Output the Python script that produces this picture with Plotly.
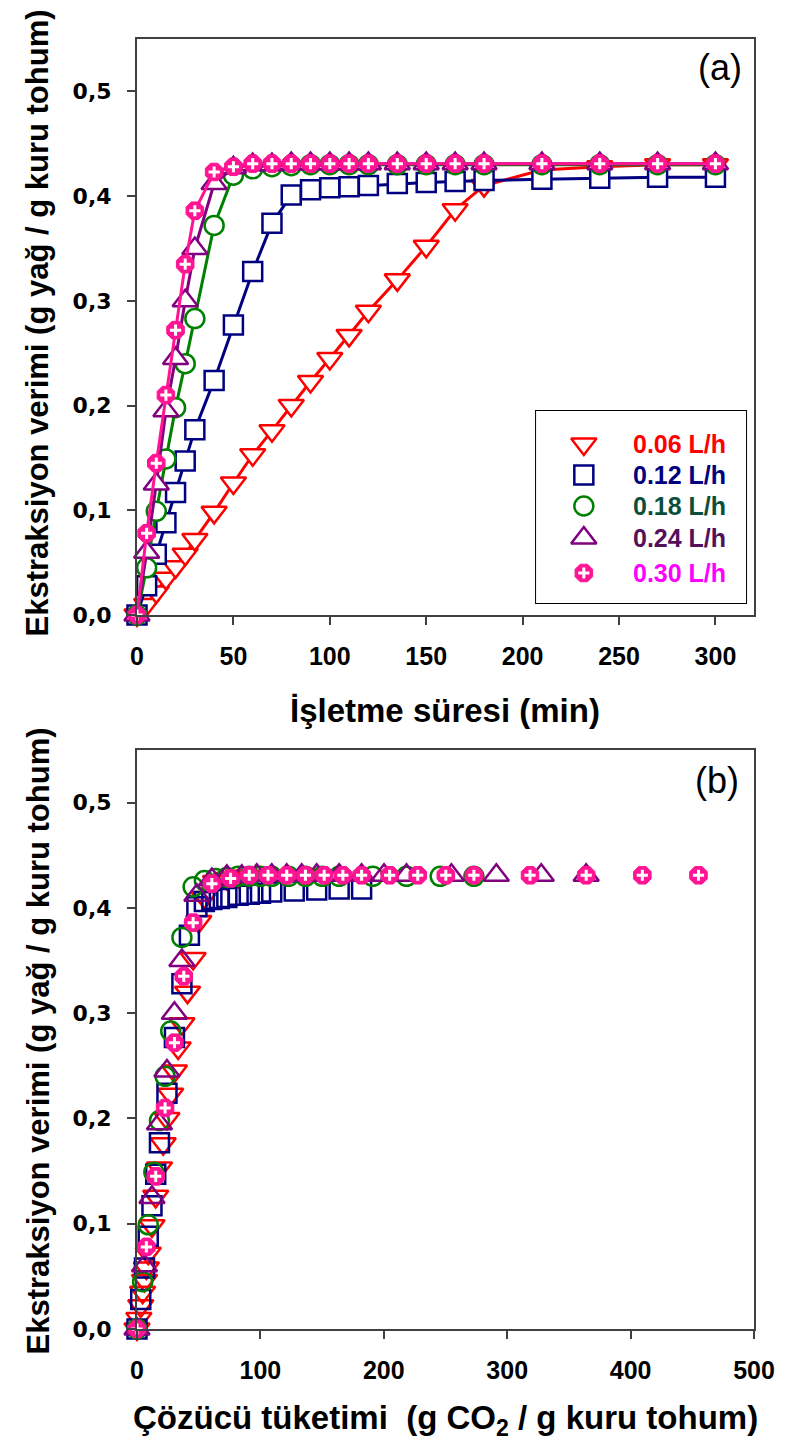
import plotly.graph_objects as go

# ---------------- data ----------------
time_min = [0, 5, 10, 15, 20, 25, 30, 40, 50, 60, 70, 80, 90, 100, 110, 120,
            135, 150, 165, 180, 210, 240, 270, 300]

flow_labels = ["0.06 L/h", "0.12 L/h", "0.18 L/h", "0.24 L/h", "0.30 L/h"]

yield_006 = [0.000, 0.010, 0.022, 0.035, 0.046, 0.058, 0.072, 0.098, 0.126, 0.153,
             0.176, 0.200, 0.223, 0.245, 0.267, 0.290, 0.320, 0.352, 0.387, 0.410,
             0.425, 0.428, 0.430, 0.430]
yield_012 = [0.000, 0.028, 0.058, 0.088, 0.117, 0.147, 0.177, 0.224, 0.277, 0.328,
             0.374, 0.401, 0.406, 0.408, 0.409, 0.410, 0.412, 0.413, 0.414, 0.415,
             0.416, 0.417, 0.418, 0.418]
yield_018 = [0.000, 0.045, 0.099, 0.149, 0.198, 0.240, 0.283, 0.372, 0.420, 0.426,
             0.428, 0.429, 0.430, 0.430, 0.430, 0.430, 0.430, 0.430, 0.430, 0.430,
             0.430, 0.430, 0.430, 0.430]
yield_024 = [0.000, 0.060, 0.125, 0.195, 0.245, 0.300, 0.350, 0.412, 0.427, 0.430,
             0.430, 0.431, 0.431, 0.431, 0.431, 0.431, 0.431, 0.431, 0.431, 0.431,
             0.431, 0.431, 0.431, 0.431]
yield_030 = [0.000, 0.078, 0.145, 0.210, 0.272, 0.335, 0.386, 0.423, 0.428, 0.431,
             0.431, 0.431, 0.431, 0.431, 0.431, 0.431, 0.431, 0.431, 0.431, 0.431,
             0.431, 0.431, 0.431, 0.431]

# solvent consumption rate (g CO2 / g dry seed per minute) for each flow rate
co2_per_min = [0.3033, 0.6067, 0.9100, 1.2133, 1.5167]

x_ticks_a = [0, 50, 100, 150, 200, 250, 300]
x_ticks_b = [0, 100, 200, 300, 400, 500]
y_ticks = [0.0, 0.1, 0.2, 0.3, 0.4, 0.5]
y_ticktext = ["0,0", "0,1", "0,2", "0,3", "0,4", "0,5"]

# ---------------- styles ----------------
W, H = 787, 1447
L, R, T, B = 137, 30, 39, 118
PW, PH = W - L - R, H - T - B


def px_x(px):
    return (px - L) / PW


def px_y(py):
    return (H - B - py) / PH


series = [yield_006, yield_012, yield_018, yield_024, yield_030]
line_colors = ["#FF0000", "#000080", "#008000", "#800080", "#FF1493"]
text_colors = ["#FF0000", "#000080", "#0B4F3A", "#55105A", "#FF00FF"]
symbols = ["triangle-down", "square", "circle", "triangle-up", "octagon"]
sizes = [22, 19, 19, 22, 19]

AX = "#404040"
TICK_FONT = dict(family="Liberation Sans, Arial", size=25, color="black", weight="bold")
YTICK_FONT = dict(family="DejaVu Sans", size=22, color="black", weight="bold")
TITLE_FONT = dict(family="Liberation Sans, Arial", size=31, color="black", weight="bold")
XTITLE_FONT = dict(family="Liberation Sans, Arial", size=33, color="black", weight="bold")

fig = go.Figure()


def add_series(xs, ys, i, xa, ya, with_line):
    pink = i == 4
    if pink:
        marker = dict(symbol=symbols[i], size=sizes[i], color=line_colors[i],
                      line=dict(color=line_colors[i], width=1))
    else:
        marker = dict(symbol=symbols[i] if with_line else symbols[i] + "-open",
                      size=sizes[i], color="white" if with_line else line_colors[i],
                      line=dict(color=line_colors[i], width=2.5))
    fig.add_trace(go.Scatter(
        x=xs, y=ys, xaxis=xa, yaxis=ya,
        mode="lines+markers" if with_line else "markers",
        line=dict(color=line_colors[i], width=3),
        marker=marker, cliponaxis=False, showlegend=False, hoverinfo="skip"))
    if pink:
        fig.add_trace(go.Scatter(
            x=xs, y=ys, xaxis=xa, yaxis=ya, mode="markers",
            marker=dict(symbol="cross-thin", size=8, color="white",
                        line=dict(color="white", width=3)),
            cliponaxis=False, showlegend=False, hoverinfo="skip"))


# panel (a)
for i, ys in enumerate(series):
    add_series(time_min, ys, i, "x", "y", True)

# panel (b)
for i, ys in enumerate(series):
    xs = [t * co2_per_min[i] for t in time_min]
    add_series(xs, ys, i, "x2", "y2", False)

# legend markers (on an auxiliary axis in pixel units)
leg_box = (538, 411, 749, 603)
leg_rows = [444, 475, 506, 538, 573]
leg_sym_x = 586
leg_txt_x = 633
for i in range(5):
    pink = i == 4
    if pink:
        marker = dict(symbol="octagon", size=19, color=line_colors[i],
                      line=dict(color=line_colors[i], width=1))
    else:
        marker = dict(symbol=symbols[i] + "-open", size=sizes[i], color=line_colors[i],
                      line=dict(color=line_colors[i], width=2.5))
    fig.add_trace(go.Scatter(x=[leg_sym_x], y=[leg_rows[i]], xaxis="x3", yaxis="y3",
                             mode="markers", marker=marker, showlegend=False,
                             hoverinfo="skip", cliponaxis=False))
    if pink:
        fig.add_trace(go.Scatter(x=[leg_sym_x], y=[leg_rows[i]], xaxis="x3", yaxis="y3",
                                 mode="markers",
                                 marker=dict(symbol="cross-thin", size=8, color="white",
                                             line=dict(color="white", width=3)),
                                 showlegend=False, hoverinfo="skip", cliponaxis=False))

dom_a = [px_y(615), px_y(39)]
dom_b = [px_y(1329), px_y(750)]

common_x = dict(showgrid=False, zeroline=False, showline=True, linecolor=AX, linewidth=2,
                mirror=True, ticks="outside", ticklen=8, tickwidth=2, tickcolor=AX,
                tickfont=TICK_FONT, ticklabelstandoff=10)
common_y = dict(showgrid=False, zeroline=False, showline=True, linecolor=AX, linewidth=2,
                mirror=True, ticks="outside", ticklen=8, tickwidth=2, tickcolor=AX,
                tickfont=YTICK_FONT, range=[0, 0.55], tickvals=y_ticks,
                ticktext=y_ticktext, ticklabelstandoff=11)

fig.update_layout(
    width=W, height=H, autosize=False,
    margin=dict(l=L, r=R, t=T, b=B, pad=0),
    paper_bgcolor="white", plot_bgcolor="white",
    xaxis=dict(domain=[0, 1], anchor="y", range=[0, 320], tickvals=x_ticks_a, **common_x),
    yaxis=dict(domain=dom_a, anchor="x", **common_y),
    xaxis2=dict(domain=[0, 1], anchor="y2", range=[0, 500], tickvals=x_ticks_b, **common_x),
    yaxis2=dict(domain=dom_b, anchor="x2", **common_y),
    xaxis3=dict(domain=[px_x(leg_box[0]), px_x(leg_box[2])], anchor="y3",
                range=[leg_box[0], leg_box[2]], visible=False, fixedrange=True),
    yaxis3=dict(domain=[px_y(leg_box[3]), px_y(leg_box[1])], anchor="x3",
                range=[leg_box[3], leg_box[1]], visible=False, fixedrange=True),
)

fig.add_shape(type="rect", xref="paper", yref="paper",
              x0=px_x(leg_box[0]), x1=px_x(leg_box[2]),
              y0=px_y(leg_box[3]), y1=px_y(leg_box[1]),
              line=dict(color="black", width=2), fillcolor="rgba(0,0,0,0)", layer="below")

annotations = []
for i in range(5):
    annotations.append(dict(
        x=px_x(leg_txt_x), y=px_y(leg_rows[i]), xref="paper", yref="paper",
        text=flow_labels[i], showarrow=False, xanchor="left", yanchor="middle",
        font=dict(family="Liberation Sans, Arial", size=25, color=text_colors[i], weight="bold")))

ytitle = "Ekstraksiyon verimi (g yağ / g kuru tohum)"
annotations += [
    dict(x=px_x(38), y=px_y(323), xref="paper", yref="paper", text=ytitle, textangle=-90,
         showarrow=False, xanchor="center", yanchor="middle", font=TITLE_FONT),
    dict(x=px_x(38), y=px_y(1041), xref="paper", yref="paper", text=ytitle, textangle=-90,
         showarrow=False, xanchor="center", yanchor="middle", font=TITLE_FONT),
    dict(x=px_x(446), y=px_y(710), xref="paper", yref="paper", text="İşletme süresi (min)",
         showarrow=False, xanchor="center", yanchor="middle", font=XTITLE_FONT),
    dict(x=px_x(447), y=px_y(1420), xref="paper", yref="paper",
         text="Çözücü tüketimi  (g CO<sub>2</sub> / g kuru tohum)",
         showarrow=False, xanchor="center", yanchor="middle", font=XTITLE_FONT),
    dict(x=px_x(723), y=px_y(68), xref="paper", yref="paper", text="(a)", showarrow=False,
         xanchor="center", yanchor="middle",
         font=dict(family="Liberation Sans, Arial", size=36, color="black")),
    dict(x=px_x(720), y=px_y(780), xref="paper", yref="paper", text="(b)", showarrow=False,
         xanchor="center", yanchor="middle",
         font=dict(family="Liberation Sans, Arial", size=36, color="black")),
]
fig.update_layout(annotations=annotations)

fig.write_html("out.html")
